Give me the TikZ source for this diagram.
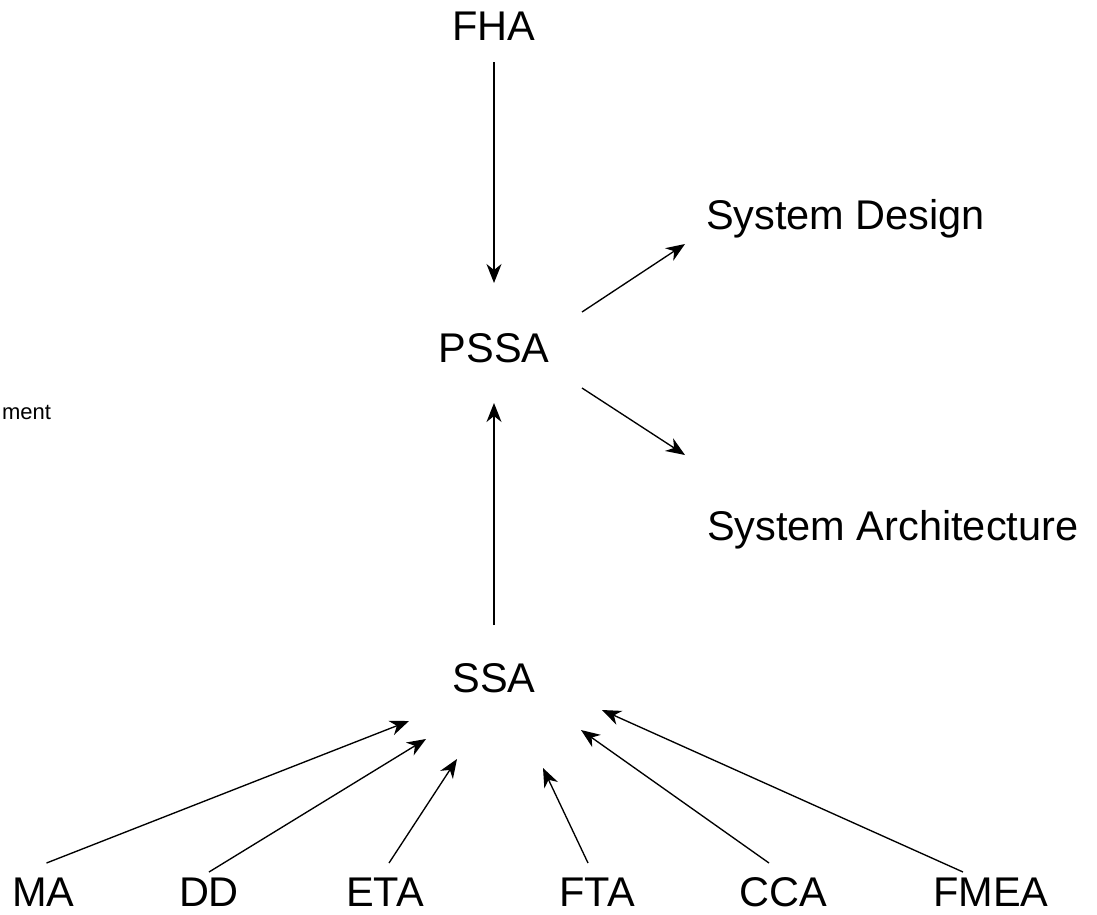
\documentclass[tikz,border=0pt]{standalone}
\usepackage{fontspec}
\setmainfont{Liberation Sans}
\usetikzlibrary{arrows.meta,calc}
\tikzset{
  lbl/.style={inner sep=0pt, outer sep=0pt, anchor=base, font=\fontsize{41.5pt}{50pt}\selectfont},
  lblw/.style={lbl, anchor=base west},
  small/.style={inner sep=0pt, outer sep=0pt, anchor=base east, font=\fontsize{22pt}{26pt}\selectfont},
  arr/.style={line width=1.35pt, -{Stealth[length=19pt, width=15pt, inset=6pt]}},
}
\begin{document}
\begin{tikzpicture}[x=1pt, y=-1pt]
  \useasboundingbox (0,0) rectangle (1097,914);

  % process nodes
  \node[lbl]  (FHA)  at (494,40)  {FHA};
  \node[lbl]  (PSSA) at (494,362) {PSSA};
  \node[lbl]  (SSA)  at (494,692) {SSA};
  \node[lblw] (SD)   at (706,229) {System Design};
  \node[lblw] (SA)   at (707,540) {System Architecture};
  \node[small] (REQ) at (51,419)  {ment};

  % analysis methods
  \node[lbl] (MA)   at (43.5,906) {MA};
  \node[lbl] (DD)   at (209,906)  {DD};
  \node[lbl] (ETA)  at (385,906)  {ETA};
  \node[lbl] (FTA)  at (597,906)  {FTA};
  \node[lbl] (CCA)  at (783,906)  {CCA};
  \node[lbl] (FMEA) at (991,906)  {FMEA};

  % main flow
  \draw[arr] ($(FHA.base)+(0,22)$)   -- ($(PSSA.base)+(0,-79)$);
  \draw[arr] ($(SSA.base)+(0,-67)$)  -- ($(PSSA.base)+(0,41)$);
  \draw[arr] ($(PSSA.base)+(88,-50)$) -- ($(SD.base west)+(-21,15)$);
  \draw[arr] ($(PSSA.base)+(88,26)$)  -- ($(SA.base west)+(-22,-85)$);

  % methods feeding the SSA
  \draw[arr] ($(MA.base)+(3,-43)$)    -- ($(SSA.base)+(-85,29)$);
  \draw[arr] ($(DD.base)+(0,-34)$)    -- ($(SSA.base)+(-68,47)$);
  \draw[arr] ($(ETA.base)+(4,-43)$)   -- ($(SSA.base)+(-37,67)$);
  \draw[arr] ($(FTA.base)+(-9,-43)$)  -- ($(SSA.base)+(49,76)$);
  \draw[arr] ($(CCA.base)+(-14,-43)$) -- ($(SSA.base)+(87,38)$);
  \draw[arr] ($(FMEA.base)+(-28,-34)$) -- ($(SSA.base)+(108,18)$);
\end{tikzpicture}
\end{document}
